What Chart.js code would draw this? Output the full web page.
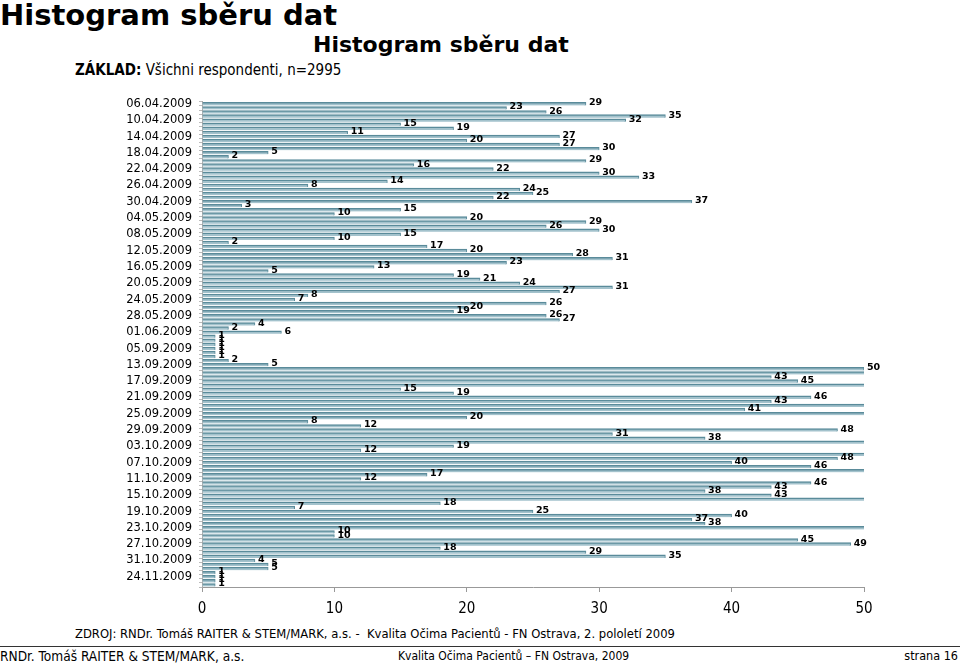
<!DOCTYPE html>
<html>
<head>
<meta charset="utf-8">
<script src="https://cdn.jsdelivr.net/npm/chart.js@4"></script>
<style>
    body { margin: 0; background: #fff; }
    #page { position: relative; width: 960px; height: 663px; overflow: hidden; font-family: "DejaVu Sans", Verdana, sans-serif; color: #000; }
    .txt { position: absolute; white-space: nowrap; line-height: 1; }
    #mainTitle { left: 0; top: 1px; font-size: 29px; font-weight: bold; }
    #chartTitle { left: 313px; top: 34px; font-size: 22px; font-weight: bold; }
    #base { left: 75px; top: 63px; font-size: 15px; font-family: "DejaVu Sans Condensed", "DejaVu Sans", sans-serif; }
    #source { left: 75px; top: 628px; font-size: 12.9px; font-family: "DejaVu Sans Condensed", "DejaVu Sans", sans-serif; }
    #rule { position: absolute; left: 0; top: 646px; width: 960px; height: 1px; background: #333; }
    .foot { top: 650px; font-family: "DejaVu Sans Condensed", "DejaVu Sans", sans-serif; }
    #chartBox { position: absolute; left: 0; top: 88px; width: 900px; height: 537px; }
</style>
</head>
<body>
<div id="page">
    <div class="txt" id="mainTitle">Histogram sběru dat</div>
    <div class="txt" id="chartTitle">Histogram sběru dat</div>
    <div class="txt" id="base"><b>ZÁKLAD:</b> Všichni respondenti, n=2995</div>
    <div id="chartBox"><canvas id="histChart"></canvas></div>
    <div class="txt" id="source">ZDROJ: RNDr. Tomáš RAITER &amp; STEM/MARK, a.s. -&nbsp; Kvalita Očima Pacientů - FN Ostrava, 2. pololetí 2009</div>
    <div id="rule"></div>
    <div class="txt foot" style="left:0; font-size:13.6px">RNDr. Tomáš RAITER &amp; STEM/MARK, a.s.</div>
    <div class="txt foot" style="left:398px; font-size:12px">Kvalita Očima Pacientů – FN Ostrava, 2009</div>
    <div class="txt foot" style="right:2px; font-size:12.5px">strana 16</div>
</div>
<script>
// Date labels shown on the axis (every 4th collection day)
const dateLabels = ['06.04.2009', '10.04.2009', '14.04.2009', '18.04.2009', '22.04.2009', '26.04.2009',
    '30.04.2009', '04.05.2009', '08.05.2009', '12.05.2009', '16.05.2009', '20.05.2009', '24.05.2009',
    '28.05.2009', '01.06.2009', '05.09.2009', '13.09.2009', '17.09.2009', '21.09.2009', '25.09.2009',
    '29.09.2009', '03.10.2009', '07.10.2009', '11.10.2009', '15.10.2009', '19.10.2009', '23.10.2009',
    '27.10.2009', '31.10.2009', '24.11.2009'];

// Questionnaires collected per day (values past 50 run off the axis, 52 is a guess)
const counts = [
    29, 23, 26, 35, 32, 15, 19, 11, 27, 20, 27, 30, 5, 2, 29, 16, 22, 30, 33, 14,
    8, 24, 25, 22, 37, 3, 15, 10, 20, 29, 26, 30, 15, 10, 2, 17, 20, 28, 31, 23,
    13, 5, 19, 21, 24, 31, 27, 8, 7, 26, 20, 19, 26, 27, 4, 2, 6, 1, 1, 1,
    1, 1, 1, 2, 5, 50, 52, 43, 45, 52, 15, 19, 46, 43, 52, 41, 52, 20, 8, 12,
    48, 31, 38, 52, 19, 12, 52, 48, 40, 46, 52, 17, 12, 46, 43, 38, 43, 52, 18, 7,
    25, 40, 37, 38, 52, 10, 10, 45, 49, 18, 29, 35, 4, 5, 5, 1, 1, 1, 1
];

const xTicks = [0, 10, 20, 30, 40, 50];
const xMax = 50;

const barLabels = counts.map((v, i) => (i % 4 === 0 ? dateLabels[i / 4] : ''));

// Value written right after each bar end
const valueLabels = {
    id: 'valueLabels',
    afterDatasetsDraw(chart) {
        const ctx = chart.ctx;
        const meta = chart.getDatasetMeta(0);
        ctx.save();
        ctx.font = 'bold 9.5px "DejaVu Sans"';
        ctx.fillStyle = '#000';
        ctx.textBaseline = 'middle';
        meta.data.forEach((bar, i) => {
            if (counts[i] > xMax) return;
            ctx.fillText(String(counts[i]), bar.x + 3, bar.y - 1);
        });
        ctx.restore();
    }
};

const ctxHist = document.getElementById('histChart').getContext('2d');
const histChart = new Chart(ctxHist, {
    type: 'bar',
    data: {
        labels: barLabels,
        datasets: [{
            data: counts,
            backgroundColor: '#a3c2cc',
            borderColor: '#5a8b9a',
            borderWidth: { top: 2, right: 1, bottom: 0, left: 0 },
            borderSkipped: 'start',
            barThickness: 3
        }]
    },
    options: {
        indexAxis: 'y',
        responsive: true,
        maintainAspectRatio: false,
        animation: false,
        layout: { padding: { top: 4, right: 36, left: 0, bottom: 0 } },
        plugins: {
            legend: { display: false },
            tooltip: { enabled: false }
        },
        scales: {
            x: {
                min: 0,
                max: xMax,
                afterBuildTicks: (scale) => { scale.ticks = xTicks.map(v => ({ value: v })); },
                afterFit: (scale) => { scale.height = 38; },
                ticks: {
                    color: '#000',
                    padding: 8,
                    font: { family: '"DejaVu Sans Condensed", "DejaVu Sans"', size: 15 }
                },
                grid: { drawOnChartArea: false, color: '#999', tickLength: 5 },
                border: { color: '#999' }
            },
            y: {
                afterFit: (scale) => { scale.width = 202; },
                ticks: {
                    autoSkip: false,
                    color: '#000',
                    padding: 7,
                    font: { family: '"DejaVu Sans"', size: 11.5 }
                },
                grid: { drawOnChartArea: false, color: '#bbb', tickLength: 3 },
                border: { color: '#aaa' }
            }
        }
    },
    plugins: [valueLabels]
});
</script>
</body>
</html>
